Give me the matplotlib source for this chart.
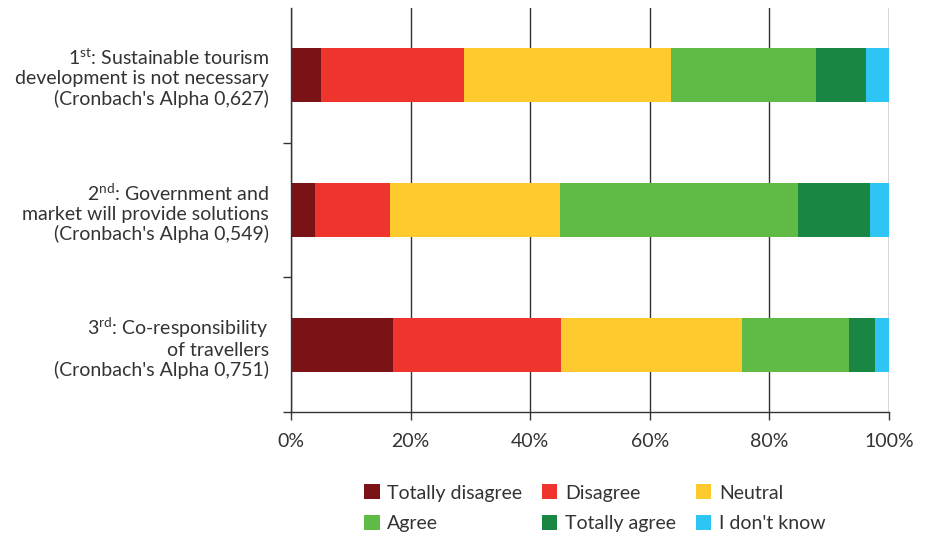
import matplotlib.pyplot as plt
from matplotlib.ticker import FixedLocator

plt.rcParams['font.family'] = ['Lato', 'DejaVu Sans']
plt.rcParams['mathtext.fontset'] = 'custom'
plt.rcParams['mathtext.rm'] = 'Lato'
plt.rcParams['mathtext.it'] = 'Lato'

# data (share of respondents, %), top to bottom
items = [
    "1$^{\\mathrm{st}}$: Sustainable tourism\ndevelopment is not necessary\n(Cronbach's Alpha 0,627)",
    "2$^{\\mathrm{nd}}$: Government and\nmarket will provide solutions\n(Cronbach's Alpha 0,549)",
    "3$^{\\mathrm{rd}}$: Co-responsibility\nof travellers\n(Cronbach's Alpha 0,751)",
]
categories = ["Totally disagree", "Disagree", "Neutral", "Agree", "Totally agree", "I don't know"]
totally_disagree = [5.0, 4.0, 17.0]
disagree = [24.0, 12.6, 28.2]
neutral = [34.6, 28.3, 30.2]
agree = [24.2, 39.9, 17.9]
totally_agree = [8.4, 12.0, 4.4]
dont_know = [3.8, 3.2, 2.3]
colors = ["#7B1316", "#EF342E", "#FECA2E", "#60BB46", "#1A8643", "#2EC4F3"]

series = [totally_disagree, disagree, neutral, agree, totally_agree, dont_know]

fig = plt.figure(figsize=(9.25, 5.38), dpi=100)
ax = fig.add_axes([0.3146, 0.234, 0.6465, 0.751])

ypos = list(range(len(items)))
left = [0.0] * len(items)
handles = []
for vals, name, c in zip(series, categories, colors):
    h = ax.barh(ypos, vals, left=left, height=0.4, color=c, label=name)
    handles.append(h)
    left = [l + v for l, v in zip(left, vals)]

ax.set_xlim(0, 100)
ax.set_ylim(2.5, -0.5)
ax.set_xticks([0, 20, 40, 60, 80, 100])
ax.set_xticklabels([f"{t}%" for t in [0, 20, 40, 60, 80, 100]])
ax.xaxis.grid(True, color="#333333", linewidth=1.0)
ax.set_axisbelow(True)

ax.yaxis.set_major_locator(FixedLocator([0.5, 1.5, 2.5]))
ax.yaxis.set_major_formatter(plt.NullFormatter())
ax.yaxis.set_minor_locator(FixedLocator(ypos))
ax.set_yticklabels(items, minor=True)
for t in ax.get_yticklabels(minor=True):
    t.set_linespacing(1.15)
ax.tick_params(axis="y", which="minor", length=0, pad=16, labelsize=14, labelcolor="#333333")
ax.tick_params(axis="y", which="major", length=6, width=1, color="#333333")
ax.tick_params(axis="x", length=6, width=1, color="#333333", pad=9, labelsize=14, labelcolor="#333333")

for s in ["top", "right"]:
    ax.spines[s].set_visible(False)
for s in ["left", "bottom"]:
    ax.spines[s].set_color("#333333")
    ax.spines[s].set_linewidth(1.0)

order = [0, 3, 1, 4, 2, 5]
leg = fig.legend([handles[i] for i in order], [categories[i] for i in order],
                 ncol=3, loc="lower center", bbox_to_anchor=(0.643, -0.022),
                 frameon=False, fontsize=14, handlelength=0.8, handleheight=0.8,
                 handletextpad=0.4, columnspacing=1.0, labelspacing=0.7)
for t in leg.get_texts():
    t.set_color("#333333")

fig.savefig("out.png", dpi=100)
